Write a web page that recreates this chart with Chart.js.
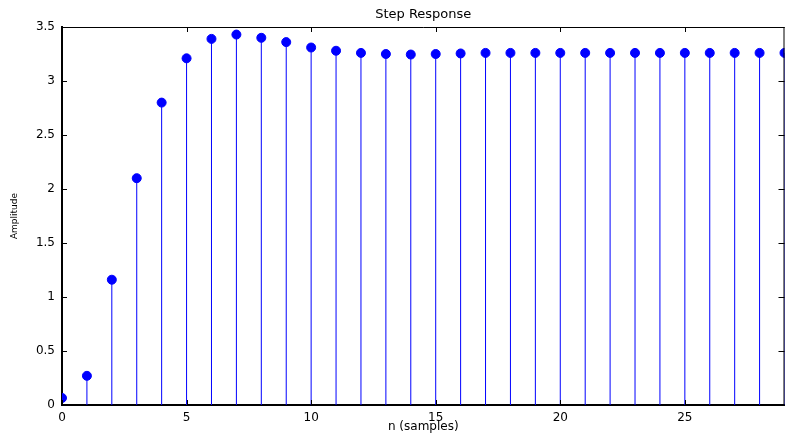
<!DOCTYPE html>
<html>
<head>
<meta charset="utf-8">
<script src="https://cdn.jsdelivr.net/npm/chart.js@4/dist/chart.umd.min.js"></script>
<style>
  html, body { margin: 0; padding: 0; background: #fff; overflow: hidden; }
  #wrap { width: 790px; height: 435px; }
</style>
</head>
<body>
<div id="wrap"><canvas id="stepChart" width="790" height="435"></canvas></div>
<script>
// step response samples
const samples = [0, 1, 2, 3, 4, 5, 6, 7, 8, 9, 10, 11, 12, 13, 14, 15, 16, 17, 18, 19, 20, 21, 22, 23, 24, 25, 26, 27, 28, 29];
const amplitude = [0.065, 0.27, 1.16, 2.10, 2.80, 3.21, 3.39, 3.43, 3.40, 3.36, 3.31, 3.28, 3.26, 3.25, 3.245, 3.25, 3.255, 3.26, 3.26, 3.26, 3.26, 3.26, 3.26, 3.26, 3.26, 3.26, 3.26, 3.26, 3.26, 3.26];
const xTicks = [0, 5, 10, 15, 20, 25];
const yTicks = [0, 0.5, 1, 1.5, 2, 2.5, 3, 3.5];

const fontFamily = '"DejaVu Sans", Verdana, sans-serif';

// stems: (n,0) -> (n,value), separated by gaps
const stemData = [];
samples.forEach((n, i) => {
    stemData.push({ x: n, y: 0 });
    stemData.push({ x: n, y: amplitude[i] });
    stemData.push({ x: n, y: null });
});
const dotData = samples.map((n, i) => ({ x: n, y: amplitude[i] }));

// matlab-style box with inward ticks and a centred title
const boxPlugin = {
    id: 'box',
    afterDraw(chart) {
        const { ctx, chartArea: a, scales } = chart;
        ctx.save();
        ctx.strokeStyle = '#000';
        ctx.lineWidth = 1;
        ctx.beginPath();
        ctx.moveTo(a.left, a.top + 0.5);
        ctx.lineTo(a.right, a.top + 0.5);
        ctx.moveTo(a.right - 0.5, a.top);
        ctx.lineTo(a.right - 0.5, a.bottom);
        xTicks.forEach(v => {
            const px = Math.round(scales.x.getPixelForValue(v)) + 0.5;
            ctx.moveTo(px, a.bottom);
            ctx.lineTo(px, a.bottom - 5);
            ctx.moveTo(px, a.top);
            ctx.lineTo(px, a.top + 5);
        });
        yTicks.forEach(v => {
            const py = Math.round(scales.y.getPixelForValue(v)) + 0.5;
            ctx.moveTo(a.left, py);
            ctx.lineTo(a.left + 5, py);
            ctx.moveTo(a.right, py);
            ctx.lineTo(a.right - 6, py);
        });
        ctx.stroke();

        ctx.fillStyle = '#000';
        ctx.font = '13px ' + fontFamily;
        ctx.textAlign = 'center';
        ctx.textBaseline = 'middle';
        ctx.fillText('Step Response', (a.left + a.right) / 2, 15);
        ctx.restore();
    }
};

const ctx = document.getElementById('stepChart').getContext('2d');
new Chart(ctx, {
    type: 'scatter',
    data: {
        datasets: [
            {
                label: 'stems',
                data: stemData,
                showLine: true,
                spanGaps: false,
                borderColor: '#0000ff',
                borderWidth: 1,
                pointRadius: 0,
                pointHoverRadius: 0
            },
            {
                label: 'Step Response',
                data: dotData,
                backgroundColor: '#0000ff',
                borderColor: '#0000ff',
                pointRadius: 4.5,
                pointHoverRadius: 4.5
            }
        ]
    },
    options: {
        responsive: false,
        animation: false,
        layout: { padding: { top: 27, right: 3, left: 0, bottom: 0 } },
        plugins: {
            legend: { display: false },
            tooltip: { enabled: false },
            title: { display: false }
        },
        scales: {
            x: {
                type: 'linear',
                min: 0,
                max: 29,
                afterBuildTicks: (scale) => { scale.ticks = xTicks.map(v => ({ value: v })); },
                grid: { display: false, drawTicks: false },
                border: { display: true, color: '#000', width: 2 },
                ticks: {
                    color: '#000',
                    font: { family: fontFamily, size: 12, lineHeight: 1 },
                    padding: 7,
                    maxRotation: 0,
                    callback: (v) => String(v)
                },
                title: { display: true, text: 'n (samples)', color: '#000', font: { family: fontFamily, size: 12, lineHeight: 1 }, padding: { top: 0, bottom: 2 } },
                afterFit: (scale) => { scale.height = 30; }
            },
            y: {
                min: 0,
                max: 3.5,
                afterBuildTicks: (scale) => { scale.ticks = yTicks.map(v => ({ value: v })); },
                grid: { display: false, drawTicks: false },
                border: { display: true, color: '#000', width: 2 },
                ticks: {
                    color: '#000',
                    font: { family: fontFamily, size: 12 },
                    padding: 7,
                    callback: (v) => String(v)
                },
                title: { display: true, text: 'Amplitude', color: '#000', font: { family: fontFamily, size: 9 }, padding: { top: 9, bottom: 0 } },
                afterFit: (scale) => { scale.width = 62; }
            }
        }
    },
    plugins: [boxPlugin]
});
</script>
</body>
</html>
